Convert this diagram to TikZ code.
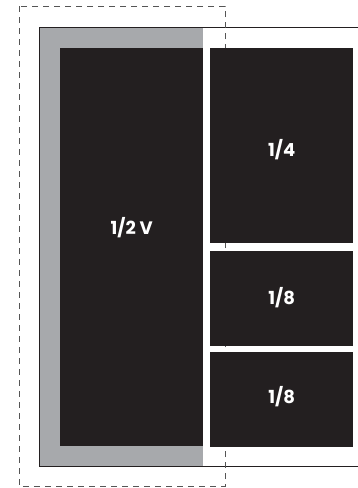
\documentclass[tikz,border=0pt]{standalone}
\usepackage{fontspec}
\setsansfont{Poppins}
\usetikzlibrary{positioning}
\definecolor{adblack}{HTML}{231F20}
\definecolor{adgray}{HTML}{A7A9AC}
\definecolor{trimgray}{HTML}{555555}

\begin{document}
\begin{tikzpicture}[x=1pt, y=-1pt,
    block/.style={fill=adblack, text=white, inner sep=0pt, anchor=north west,
      minimum width=143pt, font=\sffamily\bfseries\fontsize{18}{21}\selectfont},
    trim/.style={draw=trimgray, line width=1pt, dash pattern=on 6pt off 5pt},
    edge/.style={draw=adblack, line width=0.9pt}
  ]
  \useasboundingbox (0,0) rectangle (358,488);
  % gutter and page edge
  \fill[adgray] (39,27) rectangle (203,466);
  \draw[edge] (358,27) -- (39,27) -- (39,466) -- (358,466);
  % bleed line
  \draw[trim] (19,6) rectangle (225,486);

  % ad units
  \node[block, minimum height=398pt] (half)    at (60,48)  {};
  \node[block, minimum height=195pt] (quarter) at (210,48) {};
  \node[block, minimum height=95pt, below=7pt of quarter] (eighthA) {1/8};
  \node[block, minimum height=95pt, below=6pt of eighthA] (eighthB) {};
  \node[block, fill=none, anchor=center] (halflabel) at ([yshift=20pt]half.center) {1/2 V};
  \node[block, fill=none, anchor=center] (quarterlabel) at ([yshift=-4pt]quarter.center) {1/4};
  \node[block, fill=none, anchor=center] (eighthlabel) at ([yshift=3pt]eighthB.center) {1/8};
\end{tikzpicture}
\end{document}
